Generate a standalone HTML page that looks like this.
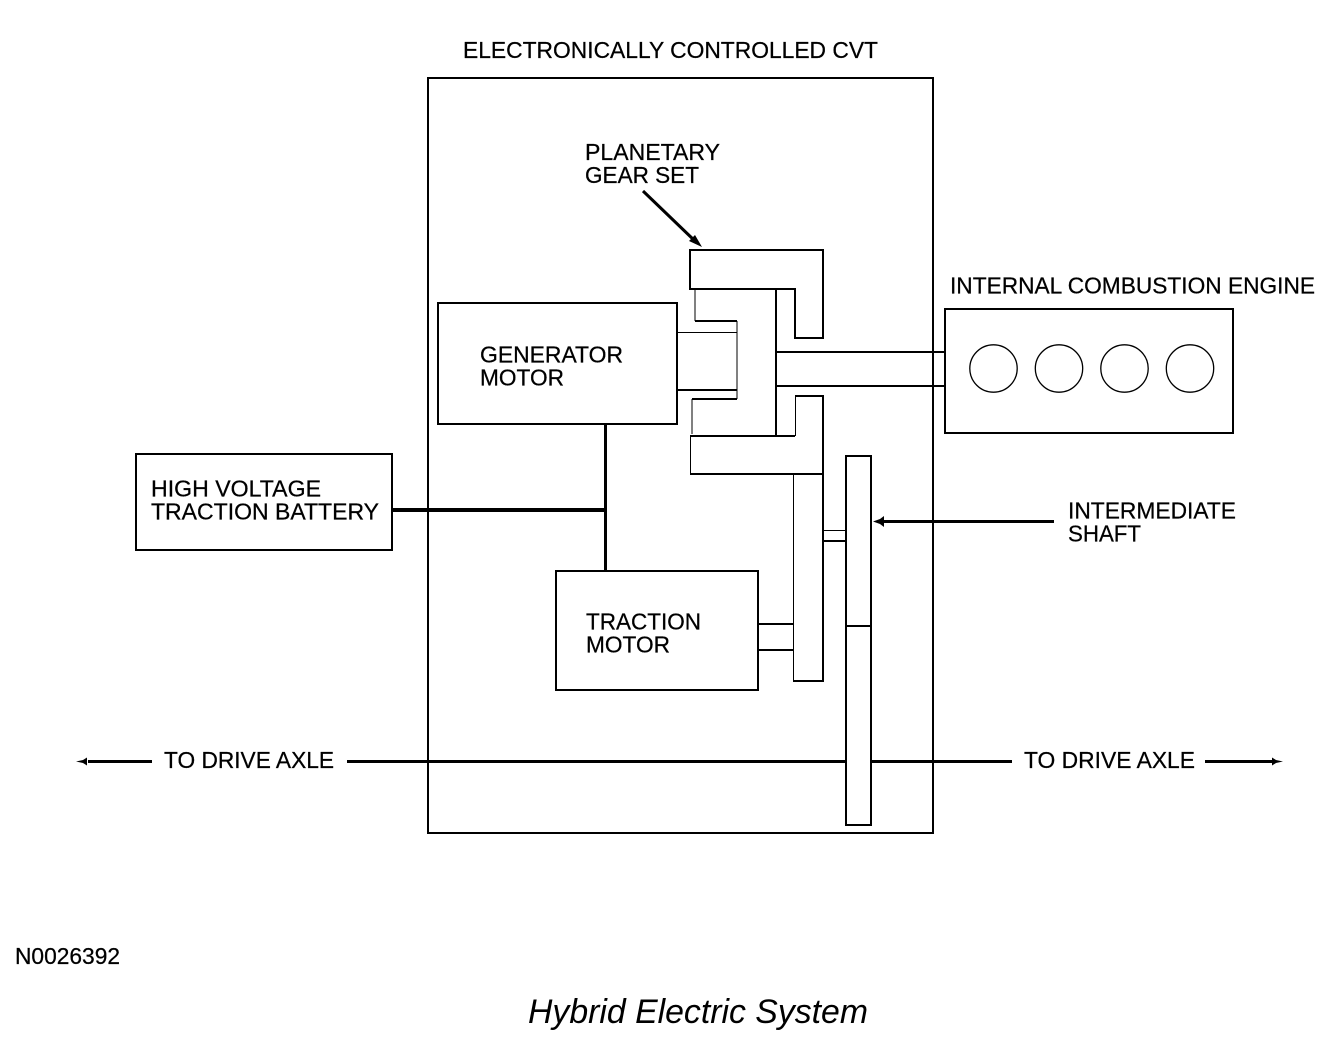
<!DOCTYPE html>
<html>
<head>
<meta charset="utf-8">
<style>
html,body{margin:0;padding:0;background:#fff;width:1344px;height:1052px;overflow:hidden}
svg{display:block}
text{font-family:"Liberation Sans",sans-serif;font-size:23px;fill:#000;stroke:#000;stroke-width:0.25px}
</style>
</head>
<body>
<svg width="1344" height="1052" viewBox="0 0 1344 1052" xmlns="http://www.w3.org/2000/svg">
<g fill="none" stroke="#000" stroke-width="2" shape-rendering="crispEdges">
<rect x="428" y="78" width="505" height="755"/>
<rect x="438" y="303" width="239" height="121"/>
<rect x="136" y="454" width="256" height="96"/>
<rect x="556" y="571" width="202" height="119"/>
<rect x="945" y="309" width="288" height="124"/>
<path d="M690 250H823V338H795V289H690Z"/>
<path d="M776 289V436"/>
<path d="M695 321H737M692 399H737"/>
<path d="M677 390H737"/>
<path d="M690 436H795M795 396H823V681H793M690 474H823"/>
<path d="M776 352H945M776 386H945"/>
<rect x="846" y="456" width="25" height="369"/>
<path d="M846 626H871"/>
<path d="M823 541H846"/>
<path d="M758 624H793M758 650H793"/>
<path d="M605.500 425V571" stroke-width="3"/>
<path d="M392 510H605" stroke-width="4"/>
<path d="M88 761.500H152M347 761.500H846M871 761.500H1012M1205 761.500H1272" stroke-width="3"/>
<path d="M1054 521.500H884" stroke-width="3"/>
</g>
<g fill="none" stroke="#000" stroke-width="1" shape-rendering="crispEdges">
<path d="M695 289V321M737 321V399M692 399V434"/>
<path d="M677 332.500H737"/>
<path d="M690.500 436V474M795.500 396V436M793.500 474V681"/>
<path d="M823 530.500H846"/>
</g>
<path d="M643 191L696 242" fill="none" stroke="#000" stroke-width="3"/>
<g fill="none" stroke="#000" stroke-width="1.300">
<circle cx="993.500" cy="368.500" r="23.700"/>
<circle cx="1059" cy="368.500" r="23.700"/>
<circle cx="1124.500" cy="368.500" r="23.700"/>
<circle cx="1190" cy="368.500" r="23.700"/>
</g>
<g fill="#000">
<path d="M702 247L689 241L695 235Z"/>
<path d="M873 521.500L880 519L884 516V527L880 524Z"/>
<path d="M76 761.500L83 760L87 757.500V765.500L83 763Z"/>
<path d="M1283 761.500L1276 760L1272 757.500V765.500L1276 763Z"/>
</g>
<text x="463" y="58" textLength="415" lengthAdjust="spacingAndGlyphs">ELECTRONICALLY CONTROLLED CVT</text>
<text x="585" y="160" textLength="135" lengthAdjust="spacingAndGlyphs">PLANETARY</text>
<text x="585" y="183" textLength="114" lengthAdjust="spacingAndGlyphs">GEAR SET</text>
<text x="950" y="293.500" textLength="365" lengthAdjust="spacingAndGlyphs">INTERNAL COMBUSTION ENGINE</text>
<text x="480" y="362.500" textLength="143" lengthAdjust="spacingAndGlyphs">GENERATOR</text>
<text x="480" y="385.500" textLength="84" lengthAdjust="spacingAndGlyphs">MOTOR</text>
<text x="151" y="496.500" textLength="170" lengthAdjust="spacingAndGlyphs">HIGH VOLTAGE</text>
<text x="151" y="519.500" textLength="228" lengthAdjust="spacingAndGlyphs">TRACTION BATTERY</text>
<text x="1068" y="518.500" textLength="168" lengthAdjust="spacingAndGlyphs">INTERMEDIATE</text>
<text x="1068" y="541.500" textLength="73" lengthAdjust="spacingAndGlyphs">SHAFT</text>
<text x="586" y="629.500" textLength="115" lengthAdjust="spacingAndGlyphs">TRACTION</text>
<text x="586" y="652.500" textLength="84" lengthAdjust="spacingAndGlyphs">MOTOR</text>
<text x="164" y="768" textLength="170" lengthAdjust="spacingAndGlyphs">TO DRIVE AXLE</text>
<text x="1024" y="768" textLength="171" lengthAdjust="spacingAndGlyphs">TO DRIVE AXLE</text>
<text x="15" y="964" textLength="105" lengthAdjust="spacingAndGlyphs">N0026392</text>
<text x="528" y="1023" textLength="340" lengthAdjust="spacingAndGlyphs" style="font-size:34px;font-style:italic;stroke-width:0">Hybrid Electric System</text>
</svg>
</body>
</html>
